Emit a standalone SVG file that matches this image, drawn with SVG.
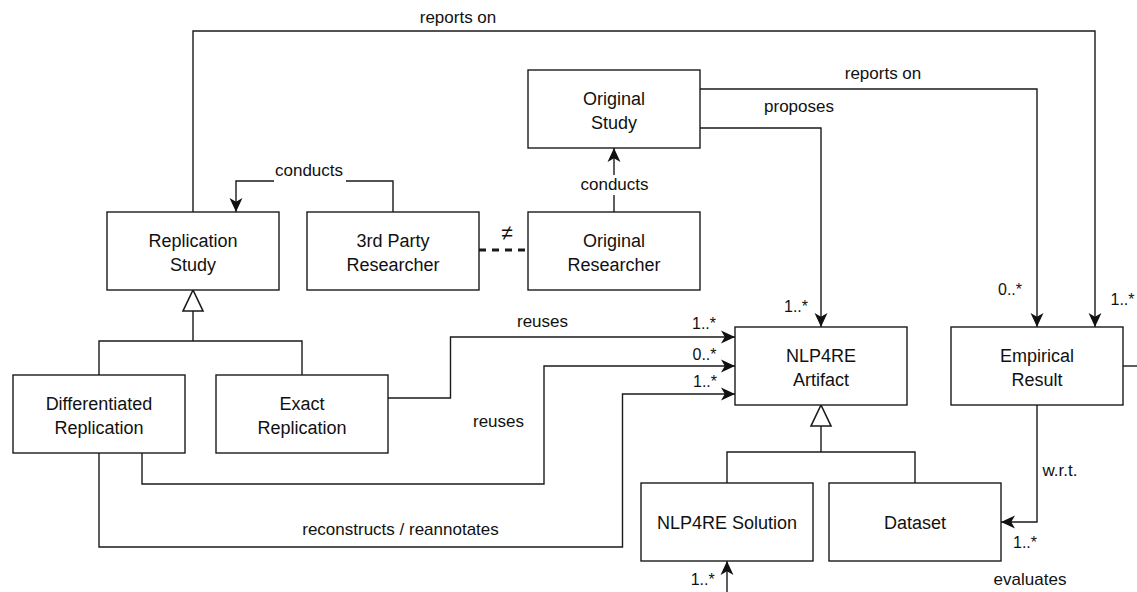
<svg xmlns="http://www.w3.org/2000/svg" width="1137" height="592" viewBox="0 0 1137 592">
<style>
.box{fill:#fff;stroke:#1a1a1a;stroke-width:1.4}
.t{font-family:"Liberation Sans",Arial,sans-serif;font-size:18px;fill:#111;text-anchor:middle}
.l{font-family:"Liberation Sans",Arial,sans-serif;font-size:17px;fill:#111;text-anchor:middle}
.m{font-family:"Liberation Sans",Arial,sans-serif;font-size:16px;fill:#111;text-anchor:middle}
.c{fill:none;stroke:#1a1a1a;stroke-width:1.4}
.arr{marker-end:url(#a)}
.gen{fill:#fff;stroke:#1a1a1a;stroke-width:1.6}
</style>
<defs>
<marker id="a" markerUnits="userSpaceOnUse" markerWidth="14" markerHeight="14" viewBox="0 0 13 12" refX="13" refY="6" orient="auto">
<path d="M13 6 L0 0 L3.5 6 L0 12 Z" fill="#111"/>
</marker>
</defs>
<rect width="1137" height="592" fill="#fff"/>
<g id="connectors">
<path class="c arr" d="M193 212 V31 H1095 V327"/>
<path class="c arr" d="M700 89 H1037 V327"/>
<path class="c arr" d="M700 128 H821 V327"/>
<path class="c arr" d="M393 212 V181 H236 V212"/>
<path class="c arr" d="M614 212 V148"/>
<path class="c" d="M479 250 H528" style="stroke-width:3;stroke-dasharray:7 6"/>
<path class="c" d="M193 311 V341 M99 375 V341 H302 V375"/>
<path class="gen" d="M193 290 L203 311 L183 311 Z"/>
<path class="c arr" d="M388 398 H450.5 V337 H735"/>
<path class="c arr" d="M142 453 V484 H544 V366 H735"/>
<path class="c arr" d="M99 453 V547 H622.5 V394 H735"/>
<path class="c" d="M821 426 V452 M727 483 V452 H915 V483"/>
<path class="gen" d="M821 405 L831 426 L811 426 Z"/>
<path class="c arr" d="M1037 405 V522 H1001"/>
<path class="c" d="M1123 366 H1137"/>
<path class="c arr" d="M727 592 V561"/>
<rect x="274" y="163" width="72" height="20" fill="#fff"/>
<rect x="580" y="175" width="70" height="20" fill="#fff"/>
<text class="l" x="458" y="23">reports on</text>
<text class="l" x="883" y="79">reports on</text>
<text class="l" x="799" y="112">proposes</text>
<text class="l" x="309" y="176">conducts</text>
<text class="l" x="614.5" y="190">conducts</text>
<text class="l" x="507" y="240" style="font-size:21px">≠</text>
<text class="l" x="542.5" y="327">reuses</text>
<text class="l" x="498.5" y="427">reuses</text>
<text class="l" x="400.5" y="535">reconstructs / reannotates</text>
<text class="l" x="1060" y="476">w.r.t.</text>
<text class="l" x="1030" y="585">evaluates</text>
<text class="m" x="704" y="329">1..*</text>
<text class="m" x="704.5" y="360">0..*</text>
<text class="m" x="705" y="387">1..*</text>
<text class="m" x="796" y="311.5">1..*</text>
<text class="m" x="1010" y="295">0..*</text>
<text class="m" x="1122.5" y="305">1..*</text>
<text class="m" x="1025" y="548">1..*</text>
<text class="m" x="702.7" y="585">1..*</text>
</g>
<g id="replication-study"><rect class="box" x="107" y="212" width="172" height="78"/><text class="t" x="193" y="247">Replication</text><text class="t" x="193" y="270.5">Study</text></g>
<g id="third-party-researcher"><rect class="box" x="307" y="212" width="172" height="78"/><text class="t" x="393" y="247">3rd Party</text><text class="t" x="393" y="270.5">Researcher</text></g>
<g id="original-researcher"><rect class="box" x="528" y="212" width="172" height="78"/><text class="t" x="614" y="247">Original</text><text class="t" x="614" y="270.5">Researcher</text></g>
<g id="original-study"><rect class="box" x="528" y="70" width="172" height="78"/><text class="t" x="614" y="105">Original</text><text class="t" x="614" y="128.5">Study</text></g>
<g id="differentiated-replication"><rect class="box" x="13" y="375" width="172" height="78"/><text class="t" x="99" y="410">Differentiated</text><text class="t" x="99" y="433.5">Replication</text></g>
<g id="exact-replication"><rect class="box" x="216" y="375" width="172" height="78"/><text class="t" x="302" y="410">Exact</text><text class="t" x="302" y="433.5">Replication</text></g>
<g id="nlp4re-artifact"><rect class="box" x="735" y="327" width="172" height="78"/><text class="t" x="821" y="362">NLP4RE</text><text class="t" x="821" y="385.5">Artifact</text></g>
<g id="empirical-result"><rect class="box" x="951" y="327" width="172" height="78"/><text class="t" x="1037" y="362">Empirical</text><text class="t" x="1037" y="385.5">Result</text></g>
<g id="nlp4re-solution"><rect class="box" x="641" y="483" width="172" height="78"/><text class="t" x="727" y="529">NLP4RE Solution</text></g>
<g id="dataset"><rect class="box" x="829" y="483" width="172" height="78"/><text class="t" x="915" y="529">Dataset</text></g>
</svg>
